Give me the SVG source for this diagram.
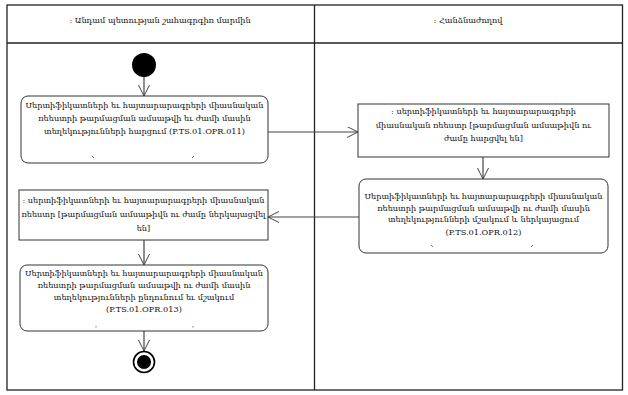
<svg xmlns="http://www.w3.org/2000/svg" width="628" height="395" viewBox="0 0 628 395">
<style>
.lane{fill:none;stroke:#222;stroke-width:1.3}
.box{fill:#fff;stroke:#333;stroke-width:1}
.t{font-family:"DejaVu Serif","Noto Serif",serif;font-size:8.2px;fill:#111;text-anchor:middle}
.h{font-family:"DejaVu Serif","Noto Serif",serif;font-size:8.2px;fill:#111;text-anchor:middle}
.c{fill:none;stroke:#444;stroke-width:1.2}
.tick{stroke:#555;stroke-width:0.8}
</style>
<defs>
<marker id="a" markerWidth="12" markerHeight="12" refX="11" refY="5.5" orient="auto" markerUnits="userSpaceOnUse">
<path d="M0,0 L11,5.5 L0,11" fill="none" stroke="#444" stroke-width="1"/>
</marker>
</defs>
<rect x="0" y="0" width="628" height="395" fill="#fff"/>
<g id="lanes">
<rect class="lane" x="7" y="5" width="615.5" height="385"/>
<line class="lane" x1="7" y1="43" x2="622.5" y2="43"/>
<line class="lane" x1="314.5" y1="5" x2="314.5" y2="390"/>
<text class="h" x="160" y="23">: Անդամ պետության շահագրգիռ մարմին</text>
<text class="h" x="468" y="23">: Հանձնաժողով</text>
</g>
<g id="connectors">
<line class="c" x1="144" y1="77" x2="144" y2="96" marker-end="url(#a)"/>
<line class="c" x1="268" y1="132" x2="358" y2="132" marker-end="url(#a)"/>
<line class="c" x1="483" y1="157" x2="483" y2="179" marker-end="url(#a)"/>
<line class="c" x1="359" y1="217" x2="268" y2="217" marker-end="url(#a)"/>
<line class="c" x1="144" y1="240" x2="144" y2="265" marker-end="url(#a)"/>
<line class="c" x1="144" y1="331" x2="144" y2="351" marker-end="url(#a)"/>
</g>
<g id="start">
<circle cx="144" cy="65" r="12" fill="#000"/>
</g>
<g id="n1">
<rect class="box" x="21" y="96" width="247" height="67" rx="7"/>
<text class="t" x="144.5" y="108">Սերտիֆիկատների եւ հայտարարագրերի միասնական</text>
<text class="t" x="144.5" y="121">ռեեստրի թարմացման ամսաթվի եւ ժամի մասին</text>
<text class="t" x="144.5" y="134">տեղեկությունների հարցում (P.TS.01.OPR.011)</text>
<line class="tick" x1="92" y1="156" x2="94" y2="158"/>
<line class="tick" x1="194" y1="156" x2="192" y2="158"/>
</g>
<g id="n2">
<rect class="box" x="358" y="104" width="251" height="53"/>
<text class="t" x="483.5" y="114">: սերտիֆիկատների եւ հայտարարագրերի</text>
<text class="t" x="483.5" y="128">միասնական ռեեստր [թարմացման ամսաթիվն ու</text>
<text class="t" x="483.5" y="141">ժամը հարցվել են]</text>
</g>
<g id="n3">
<rect class="box" x="359" y="179" width="249" height="74" rx="7"/>
<text class="t" x="483.5" y="199">Սերտիֆիկատների եւ հայտարարագրերի միասնական</text>
<text class="t" x="483.5" y="211">ռեեստրի թարմացման ամսաթվի ու ժամի մասին</text>
<text class="t" x="483.5" y="222">տեղեկությունների մշակում և ներկայացում</text>
<text class="t" x="483.5" y="235">(P.TS.01.OPR.012)</text>
<line class="tick" x1="431" y1="245" x2="433" y2="247"/>
<line class="tick" x1="533" y1="245" x2="531" y2="247"/>
</g>
<g id="n4">
<rect class="box" x="19" y="190" width="249" height="50"/>
<text class="t" x="143.5" y="203">: սերտիֆիկատների եւ հայտարարագրերի միասնական</text>
<text class="t" x="143.5" y="217">ռեեստր [թարմացման ամսաթիվն ու ժամը ներկայացվել</text>
<text class="t" x="143.5" y="231">են]</text>
</g>
<g id="n5">
<rect class="box" x="20" y="265" width="248" height="66" rx="7"/>
<text class="t" x="144" y="276">Սերտիֆիկատների եւ հայտարարագրերի միասնական</text>
<text class="t" x="144" y="288">ռեեստրի թարմացման ամսաթվի ու ժամի մասին</text>
<text class="t" x="144" y="300">տեղեկությունների ընդունում եւ մշակում</text>
<text class="t" x="144" y="312">(P.TS.01.OPR.013)</text>
<line class="tick" x1="96" y1="326" x2="96" y2="327.5"/>
<line class="tick" x1="193" y1="326" x2="193" y2="327.5"/>
</g>
<g id="end">
<circle cx="144" cy="362" r="10.5" fill="#fff" stroke="#000" stroke-width="1.6"/>
<circle cx="144" cy="362" r="7" fill="#000"/>
</g>
</svg>
